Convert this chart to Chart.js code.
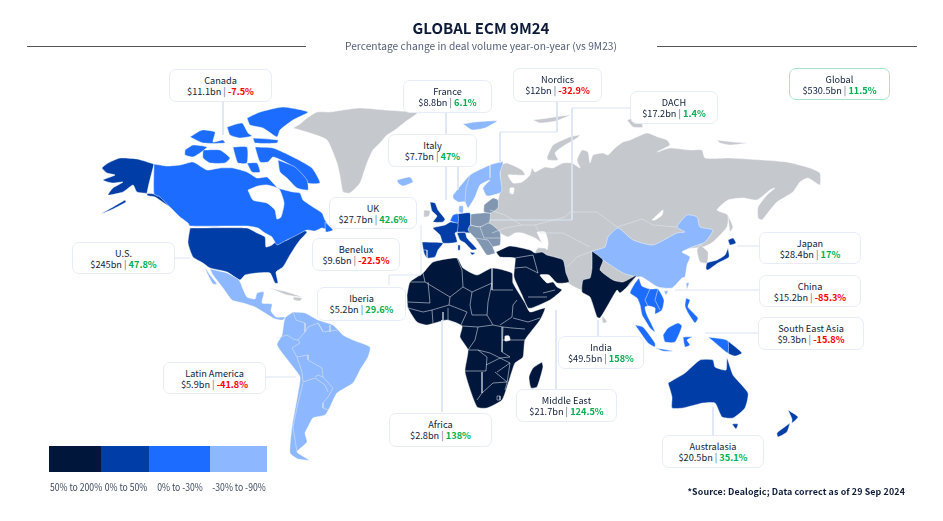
<!DOCTYPE html>
<html>
<head>
<meta charset="utf-8">
<title>Global ECM 9M24</title>
<script src="https://cdn.jsdelivr.net/npm/chart.js@4"></script>
<style>
    html, body { margin: 0; padding: 0; background: #fff; }
    body { width: 943px; height: 521px; position: relative; overflow: hidden; font-family: "Noto Sans CJK SC", "Noto Sans", sans-serif; color: #0f1e3d; }
    canvas { position: absolute; left: 0; top: 0; }
    .title { position: absolute; left: 0; width: 962px; top: 17px; text-align: center; font-size: 15px; font-weight: 700; line-height: 22px; color: #0d1b38; }
    .subtitle { position: absolute; left: 0; width: 962px; top: 38px; text-align: center; font-size: 10.2px; line-height: 16px; color: #55617a; letter-spacing: .02px; }
    .rule { position: absolute; top: 46px; height: 1px; background: #555; }
    .box { position: absolute; box-sizing: border-box; background: #fff; border: 1px solid #e7ecf6; border-radius: 7px; text-align: center; font-size: 9.2px; line-height: 11px; padding-top: 4.5px; white-space: nowrap; }
    .box.global { border-color: #a9e5c4; }
    .box b { font-weight: 700; }
    .up { color: #00b050; }
    .down { color: #ff0000; }
    .sep { color: #5a6678; }
    .swatches { position: absolute; left: 49px; top: 446px; height: 26px; width: 218px; display: flex; }
    .swatches i { display: block; height: 100%; }
    .legend-label { position: absolute; top: 480px; font-size: 10.2px; line-height: 14px; color: #3d4a60; transform: translateX(-50%) scaleX(.85); white-space: nowrap; }
    .source { position: absolute; right: 38px; top: 485px; font-size: 8.9px; font-weight: 700; line-height: 14px; color: #0d1b38; letter-spacing: .12px; }
</style>
</head>
<body>
<canvas id="map" width="943" height="521"></canvas>
<div class="rule" style="left:27px;width:279px"></div>
<div class="rule" style="left:657px;width:260px"></div>
<div class="title">GLOBAL ECM 9M24</div>
<div class="subtitle">Percentage change in deal volume year-on-year (vs 9M23)</div>
<div class="swatches" id="swatches"></div>
<div class="source">*Source: Dealogic; Data correct as of 29 Sep 2024</div>
<script>
const regionNames = ['Canada', 'France', 'Nordics', 'DACH', 'Global', 'Italy', 'UK', 'Benelux', 'U.S.', 'Iberia', 'Latin America', 'Africa', 'Middle East', 'India', 'Australasia', 'Japan', 'China', 'South East Asia']
const regionVolumes = ['$11.1bn', '$8.8bn', '$12bn', '$17.2bn', '$530.5bn', '$7.7bn', '$27.7bn', '$9.6bn', '$245bn', '$5.2bn', '$5.9bn', '$2.8bn', '$21.7bn', '$49.5bn', '$20.5bn', '$28.4bn', '$15.2bn', '$9.3bn']
const regionChanges = ['-7.5%', '6.1%', '-32.9%', '1.4%', '11.5%', '47%', '42.6%', '-22.5%', '47.8%', '29.6%', '-41.8%', '138%', '124.5%', '158%', '35.1%', '17%', '-85.3%', '-15.8%']
const legendLabels = ['50% to 200%', '0% to 50%', '0% to -30%', '-30% to -90%']

// outlines, in map units
const greenland = [[293,128],[300,124],[307,118],[317,112],[330,112],[343,110],[360,108],[385,110],[417,113],[405,122],[395,130],[387,135],[380,143],[373,150],[367,163],[360,183],[350,193],[343,192],[340,176],[337,163],[327,140],[310,133]]
const russiaAsia = [[500,165],[507,163],[522,170],[525,175],[515,175],[508,175],[513,183],[522,182],[530,175],[532,168],[535,172],[545,167],[553,168],[563,163],[572,163],[580,168],[577,160],[582,150],[588,152],[590,163],[593,155],[603,153],[608,155],[615,148],[623,142],[630,140],[647,133],[658,137],[667,140],[670,145],[657,152],[670,148],[690,150],[702,150],[705,158],[730,158],[763,160],[787,162],[810,168],[820,173],[820,185],[808,178],[800,182],[793,192],[777,202],[770,210],[762,220],[758,218],[758,207],[767,195],[775,188],[770,190],[757,200],[743,198],[728,200],[717,210],[728,215],[727,227],[713,242],[703,247],[680,250],[640,272],[630,285],[622,290],[615,285],[600,285],[582,290],[568,283],[560,270],[540,255],[535,253],[538,248],[547,248],[535,238],[522,233],[515,233],[508,237],[500,233],[488,222],[490,212],[498,200],[500,190]]
const novayaZemlya = [[547,157],[553,145],[570,137],[580,135],[577,138],[562,147],[555,153],[558,160],[548,160]]
const franzJosef = [[533,120],[548,118],[570,115],[556,121],[540,123]]
const severnaya = [[627,120],[637,117],[643,127],[633,127]]
const newSiberian = [[717,140],[733,142],[747,143],[730,145],[720,143]]
const sakhalin = [[728,215],[733,227],[730,232]]
const korea = [[703,240],[697,250],[700,262],[707,263],[708,252],[701,245]]
const sriLanka = [[603,316],[607,322],[603,323],[602,318]]
const ireland = [[424,210],[430,211],[429,216],[424,217]]
const cuba = [[270,288],[287,292],[302,297],[287,295]]
const hispaniola = [[293,297],[302,298],[300,301],[294,300]]
const caspian = [[537,232],[545,232],[548,242],[547,250],[542,243]]
const baikal = [[652,220],[663,210],[662,215],[655,220]]
const ladoga = [[510,188],[514,188],[513,194],[510,193]]

const alaska = [[154,164],[137,159],[120,158],[108,163],[102,168],[107,173],[115,175],[103,180],[112,183],[123,182],[113,188],[108,195],[123,192],[133,185],[137,192],[154,194],[162,197],[172,208],[167,205],[155,197],[147,195]]
const aleutians = [[125,200],[113,207],[101,214],[113,209],[126,202]]
const us48 = [[190,228],[247,228],[257,233],[265,237],[266,247],[272,245],[278,240],[287,240],[298,232],[302,230],[307,232],[300,240],[297,244],[290,255],[283,267],[276,272],[278,283],[275,283],[270,273],[257,273],[245,275],[240,280],[227,272],[210,268],[203,263],[193,257],[188,243]]

const canadaMain = [[154,164],[167,166],[180,165],[193,162],[207,170],[220,168],[233,168],[247,172],[257,178],[267,177],[273,183],[278,188],[293,192],[300,193],[303,200],[313,207],[322,213],[325,220],[332,231],[322,228],[315,231],[307,230],[297,235],[283,242],[277,245],[272,237],[265,233],[258,228],[247,226],[190,226],[188,223],[180,217],[170,207],[160,197],[154,194]]
const hudsonBay = [[248,190],[258,186],[267,185],[279,189],[284,203],[281,217],[277,219],[275,210],[267,203],[253,200]]
const baffin = [[255,147],[273,148],[293,157],[312,168],[320,183],[307,183],[297,170],[287,163],[273,157],[268,162],[260,162]]
const baffinSouth = [[278,160],[295,167],[307,180],[308,190],[297,188],[287,178],[280,172]]
const melville = [[247,163],[257,163],[260,172],[252,172]]
const victoriaIsland = [[203,150],[220,150],[230,158],[225,163],[210,163],[203,158]]
const banksIsland = [[185,150],[193,145],[207,147],[200,153],[193,157],[185,155]]
const princeOfWales = [[233,147],[247,147],[247,163],[238,163],[235,155]]
const ellesmere = [[247,118],[260,112],[283,107],[308,112],[293,120],[280,130],[277,137],[263,128],[250,125]]
const queenElizabeth = [[190,137],[202,130],[215,132],[213,142],[223,140],[225,143],[203,143]]
const devonIsland = [[253,138],[278,140],[277,143],[255,143]]
const axelHeiberg = [[227,127],[242,123],[248,133],[252,136],[240,138],[230,135]]
const newfoundland = [[325,222],[333,230],[326,232]]

const mexico = [[210,269],[227,273],[239,280],[243,289],[247,297],[255,299],[257,293],[264,292],[262,303],[272,304],[271,311],[276,317],[285,317],[283,320],[275,319],[265,313],[255,307],[243,303],[232,300],[223,288],[213,275]]
const baja = [[205,267],[210,275],[217,284],[213,284],[207,273]]
const southAmerica = [[293,312],[305,313],[318,320],[333,325],[343,335],[353,340],[370,347],[368,357],[360,370],[353,383],[337,393],[330,407],[325,415],[313,418],[308,427],[305,433],[307,442],[297,452],[309,460],[298,459],[290,453],[292,427],[298,393],[300,377],[290,363],[277,345],[282,335],[285,318]]

const iceland = [[397,180],[410,177],[413,182],[403,186],[398,183]]
const svalbard = [[463,124],[475,122],[497,121],[485,128],[472,130]]
const nordics = [[453,195],[470,175],[490,165],[503,162],[500,173],[502,190],[500,193],[487,196],[483,188],[490,180],[480,185],[475,197],[468,208],[465,202],[458,202],[453,198]]
const denmark = [[459,206],[463,206],[463,213],[459,212]]
const britain = [[430,202],[435,203],[438,210],[445,219],[443,222],[433,222],[437,216],[432,211]]
const benelux = [[450,221],[453,215],[458,214],[458,223]]
const germany = [[457,214],[470,213],[471,227],[475,231],[470,233],[457,232]]
const france = [[450,222],[458,223],[457,232],[455,233],[457,242],[443,243],[440,235],[433,228],[445,225]]
const italy = [[457,233],[465,232],[467,238],[477,249],[472,250],[465,243],[460,240]]
const sicily = [[470,252],[475,253],[472,255]]
const sardinia = [[458,245],[460,245],[460,250],[458,250]]
const iberia = [[422,242],[443,243],[438,250],[435,257],[427,258],[424,253]]
const poland = [[471,214],[490,213],[489,223],[480,227],[471,225]]
const baltics = [[484,205],[493,198],[498,200],[498,208],[491,213],[484,212]]
const balkans = [[470,225],[480,227],[489,223],[500,232],[500,245],[493,247],[495,253],[487,255],[480,245],[475,238],[468,230]]

const africa = [[407,295],[410,282],[423,273],[433,262],[457,258],[463,268],[477,275],[492,268],[512,273],[513,283],[525,303],[530,312],[545,308],[540,320],[525,340],[523,357],[515,363],[513,368],[507,387],[502,400],[487,408],[477,407],[465,372],[468,350],[460,337],[462,326],[447,320],[427,325],[417,322],[408,308]]
const madagascar = [[542,362],[543,367],[537,387],[531,388],[529,377],[533,368]]
const middleEast = [[496,252],[510,246],[530,250],[535,253],[542,252],[547,255],[563,260],[566,273],[569,282],[557,283],[549,275],[540,275],[547,283],[553,282],[557,287],[562,290],[550,300],[532,308],[528,308],[522,295],[514,277],[515,263],[515,258],[500,257]]
const india = [[592,251],[603,260],[600,270],[613,280],[623,282],[637,275],[630,283],[627,287],[620,293],[617,290],[608,305],[600,318],[597,317],[590,297],[582,292],[583,280],[590,278],[592,268]]
const lakeVictoria = [[505,336],[509,336],[510,340],[505,341]]

const china = [[592,251],[605,247],[608,237],[618,228],[633,240],[653,245],[677,233],[685,232],[677,227],[687,215],[697,217],[700,227],[713,230],[705,242],[692,247],[682,252],[690,257],[687,265],[685,277],[682,278],[672,288],[658,287],[642,277],[637,277],[623,273],[603,260]]
const taiwan = [[686,283],[689,283],[687,289]]
const hainan = [[664,291],[668,291],[666,295]]

const indochina = [[639,278],[642,286],[650,289],[658,289],[664,300],[662,310],[655,314],[655,308],[649,306],[645,307],[647,315],[651,323],[655,332],[650,328],[645,320],[642,315],[640,305],[637,298],[630,293],[635,283]]
const sumatra = [[635,325],[643,327],[655,343],[655,347],[648,343]]
const java = [[655,348],[673,351],[663,351]]
const borneo = [[663,335],[668,328],[678,323],[682,326],[675,342],[665,342]]
const sulawesi = [[683,337],[692,337],[687,340],[690,345],[685,347]]
const philippines = [[686,298],[690,300],[688,307],[698,318],[695,323],[688,313],[685,306]]
const papua = [[708,337],[723,339],[728,341],[728,353],[720,347],[713,341]]

const png = [[728,341],[742,353],[735,356],[728,353]]
const australia = [[668,383],[685,373],[700,360],[713,360],[715,367],[726,370],[727,358],[733,375],[748,393],[745,408],[733,418],[722,417],[715,403],[703,403],[683,408],[672,408],[672,397]]
const tasmania = [[732,424],[738,424],[736,429]]
const nzNorth = [[788,410],[798,417],[792,423],[792,419]]
const nzSouth = [[790,423],[787,432],[778,437],[777,433]]
const hokkaido = [[728,240],[733,238],[736,243],[730,245]]
const honshu = [[728,248],[729,257],[718,263],[708,270],[706,269],[707,263],[717,260],[725,255]]

const innerBorders = [
    // South America
    [[337,330],[323,332],[318,323],[308,327],[305,332],[298,340],[300,343],[292,348],[297,357],[308,355],[308,360],[322,368],[323,377],[333,388],[328,397],[323,403]],
    [[297,357],[302,372],[303,382],[315,378],[325,385],[328,392]],
    [[315,377],[318,375],[323,377]],
    [[303,383],[298,403],[293,427],[297,452]],
    [[323,403],[323,408],[328,410],[333,404]],
    [[277,338],[287,335],[293,339],[298,340]],
    [[318,323],[323,331]],
    [[330,325],[330,332]],
    [[293,312],[296,320],[305,323],[305,332]],
    // Africa
    [[423,273],[425,282],[410,282]],
    [[457,258],[462,270],[463,287]],
    [[425,282],[450,297],[463,287],[472,292],[492,283]],
    [[492,268],[492,290],[513,290]],
    [[472,292],[470,305],[472,315]],
    [[492,283],[488,302],[487,315]],
    [[450,297],[449,305],[432,310]],
    [[428,282],[430,303],[408,302]],
    [[517,300],[513,305],[512,317],[500,325]],
    [[449,305],[457,308],[467,312],[460,327],[448,320],[448,308]],
    [[472,315],[487,315],[493,325],[478,327],[462,326]],
    [[478,327],[475,340],[468,350]],
    [[493,325],[503,327],[502,340],[502,352],[510,357],[500,358],[490,353],[478,350],[468,350]],
    [[502,340],[525,340]],
    [[503,327],[512,328],[525,329]],
    [[513,318],[528,322],[540,318]],
    [[478,350],[487,357],[486,371],[465,371]],
    [[482,372],[482,393],[477,400]],
    [[495,372],[507,382],[493,383],[482,393]],
    [[510,363],[507,383],[505,390]],
    [[486,365],[500,358],[510,363],[497,372]],
    [[408,308],[423,312],[432,310],[433,323]],
    [[443,312],[443,322]],
    [[497,396],[500,396],[500,400],[497,400],[497,396]],
    // Middle East
    [[515,258],[533,255],[538,273]],
    [[515,268],[526,267],[538,273]],
    [[543,293],[555,290]],
    [[528,297],[547,297]],
    // Europe
    [[470,175],[466,188],[465,202]],
    [[490,165],[490,178]],
    [[457,232],[470,233]],
    [[422,250],[427,250],[427,258]],
    [[480,227],[484,238],[500,238]],
    [[475,238],[488,240],[493,247]],
    // Russia and central Asia
    [[535,225],[565,217],[570,212],[597,212],[617,227],[630,223],[642,219],[653,225],[677,227]],
    [[535,225],[540,233],[563,233],[590,247]],
    [[490,210],[505,215],[522,225],[535,225]],
    [[492,233],[505,228],[522,225]],
    [[592,251],[577,257],[567,267]],
    // Indochina
    [[650,289],[645,300],[648,306]],
    [[658,289],[655,300],[660,310]]
]

// leader lines from each box to its region
const leaderLines = [
    [[223,102],[223,135]],
    [[446,113],[446,200]],
    [[458,167],[458,190]],
    [[557,102],[557,132],[500,132],[500,163]],
    [[630,108],[572,108],[572,220],[490,220]],
    [[389,285],[389,275],[421,275],[421,225]],
    [[175,258],[190,258]],
    [[266,377],[296,377]],
    [[442,320],[442,412]],
    [[556,310],[556,389]],
    [[598,320],[598,336]],
    [[737,246],[760,246]],
    [[675,290],[760,290]],
    [[705,333],[760,333]],
    [[713,407],[713,435]]
]

const NAVY = '#00163a'
const DARK_BLUE = '#003da6'
const BRIGHT_BLUE = '#1c6dff'
const LIGHT_BLUE = '#8db7ff'
const GREY = '#c5c9ce'
const SLATE = '#8196b0'
const LINE_COLOR = '#dbe4f3'

const legendColors = [NAVY, DARK_BLUE, BRIGHT_BLUE, LIGHT_BLUE]
const legendWidths = [52, 48, 61, 57]
const legendCentres = [76, 126, 180, 239]

const layers = [
    [GREY, [greenland, russiaAsia, novayaZemlya, franzJosef, severnaya, newSiberian, sakhalin, korea, sriLanka, ireland, cuba, hispaniola]],
    ['#ffffff', [caspian, baikal, ladoga]],
    [DARK_BLUE, [alaska, aleutians, us48, britain, germany, france, italy, sicily, sardinia, iberia, png, australia, tasmania, nzNorth, nzSouth, hokkaido, honshu]],
    [BRIGHT_BLUE, [canadaMain, baffin, baffinSouth, melville, victoriaIsland, banksIsland, princeOfWales, ellesmere, queenElizabeth, devonIsland, axelHeiberg, newfoundland, benelux, indochina, sumatra, java, borneo, sulawesi, philippines, papua]],
    ['#ffffff', [hudsonBay]],
    [LIGHT_BLUE, [mexico, baja, southAmerica, iceland, svalbard, nordics, denmark, china, taiwan, hainan]],
    [SLATE, [poland, baltics, balkans]],
    [NAVY, [africa, madagascar, middleEast, india]],
    ['#ffffff', [lakeVictoria]]
]

const toPoints = list => list.map(p => ({ x: p[0], y: p[1] }))

const datasets = []
layers.forEach(([color, shapes]) => {
    shapes.forEach(shape => {
        datasets.push({
            data: toPoints([...shape, shape[0]]),
            showLine: true,
            fill: 'shape',
            backgroundColor: color,
            borderColor: color === '#ffffff' ? '#ffffff' : 'rgba(255,255,255,.75)',
            borderWidth: .6,
            pointRadius: 0,
            tension: .18
        })
    })
})
innerBorders.forEach(line => {
    datasets.push({ data: toPoints(line), showLine: true, fill: false, borderColor: 'rgba(225,230,238,.8)', borderWidth: .7, pointRadius: 0 })
})
leaderLines.forEach(line => {
    datasets.push({ data: toPoints(line), showLine: true, fill: false, borderColor: LINE_COLOR, borderWidth: 1, pointRadius: 0 })
})

// first dataset in the list is painted on top, so flip it
new Chart(document.getElementById('map'), {
    type: 'scatter',
    data: { datasets: datasets.reverse() },
    options: {
        responsive: false,
        animation: false,
        devicePixelRatio: 1,
        layout: { padding: 0 },
        plugins: { legend: { display: false }, tooltip: { enabled: false } },
        scales: {
            x: { type: 'linear', display: false, min: 0, max: 943 },
            y: { type: 'linear', display: false, min: 0, max: 521, reverse: true }
        }
    }
})

// left, top, width, height of each callout
const boxLayout = {
    'Canada': [169, 69, 103, 33],
    'France': [403, 80, 89, 33],
    'Nordics': [513, 68, 89, 34],
    'DACH': [630, 91, 88, 33],
    'Global': [789, 68, 101, 32],
    'Italy': [388, 134, 89, 33],
    'UK': [329, 197, 88, 32],
    'Benelux': [312, 238, 88, 33],
    'U.S.': [72, 242, 103, 32],
    'Iberia': [317, 287, 89, 34],
    'Latin America': [163, 362, 103, 32],
    'Africa': [389, 413, 103, 34],
    'Middle East': [516, 389, 101, 33],
    'India': [558, 336, 86, 33],
    'Australasia': [662, 435, 102, 33],
    'Japan': [759, 232, 102, 32],
    'China': [759, 275, 102, 32],
    'South East Asia': [758, 317, 106, 33]
}

regionNames.forEach((name, i) => {
    const [left, top, width, height] = boxLayout[name]
    const box = document.createElement('div')
    box.className = name === 'Global' ? 'box global' : 'box'
    box.style.cssText = `left:${left}px;top:${top}px;width:${width}px;height:${height}px`
    const sign = regionChanges[i].startsWith('-') ? 'down' : 'up'
    box.innerHTML = `${name}<br>${regionVolumes[i]}<span class="sep"> | </span><b class="${sign}">${regionChanges[i]}</b>`
    document.body.appendChild(box)
})

const swatches = document.getElementById('swatches')
legendLabels.forEach((label, i) => {
    const swatch = document.createElement('i')
    swatch.style.cssText = `width:${legendWidths[i]}px;background:${legendColors[i]}`
    swatches.appendChild(swatch)
    const text = document.createElement('div')
    text.className = 'legend-label'
    text.style.left = legendCentres[i] + 'px'
    text.textContent = label
    document.body.appendChild(text)
})
</script>
</body>
</html>
